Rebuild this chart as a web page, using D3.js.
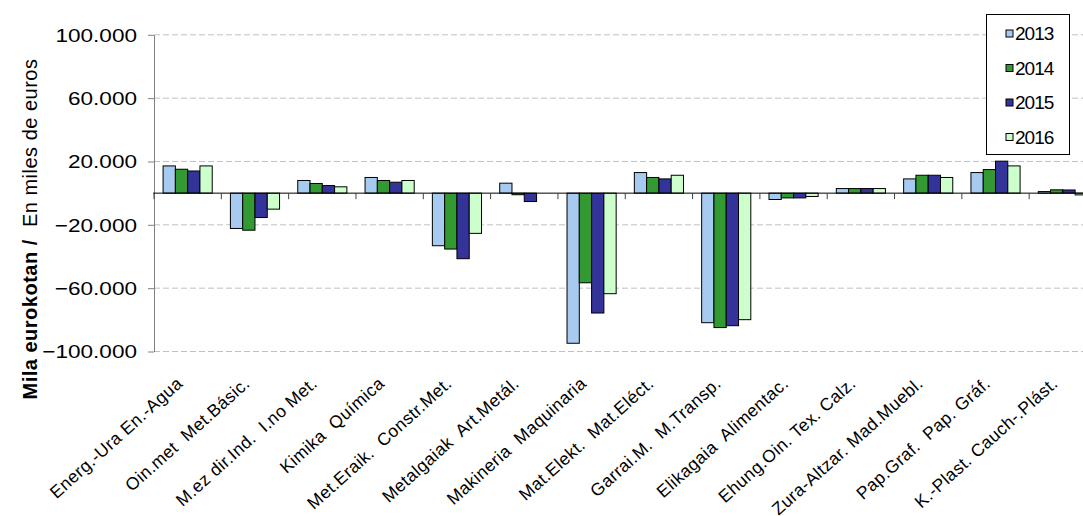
<!DOCTYPE html>
<html>
<head>
<meta charset="utf-8">
<script src="https://cdn.jsdelivr.net/npm/d3@7"></script>
<style>
  html, body { margin: 0; padding: 0; background: #fff; }
  svg { display: block; font-family: "Liberation Sans", Arial, sans-serif; }
</style>
</head>
<body>
<svg id="chart" width="1083" height="516"></svg>
<script>
const categories = [
  "Energ.-Ura En.-Agua",
  "Oin.met  Met.Básic.",
  "M.ez dir.Ind.  I.no Met.",
  "Kimika  Química",
  "Met.Eraik.  Constr.Met.",
  "Metalgaiak  Art.Metál.",
  "Makineria  Maquinaria",
  "Mat.Elekt.  Mat.Eléct.",
  "Garrai.M.  M.Transp.",
  "Elikagaia  Alimentac.",
  "Ehung.Oin. Tex. Calz.",
  "Zura-Altzar. Mad.Muebl.",
  "Pap.Graf.  Pap. Gráf.",
  "K.-Plast. Cauch-.Plást."
];
const years = ["2013", "2014", "2015", "2016"];
const values2013 = [17200, -22300, 8000, 9900, -33200, 6300, -94800, 13000, -81800, -4000, 2900, 9000, 13000, 1000];
const values2014 = [15100, -23400, 6100, 8000, -35300, -1000, -56600, 9900, -84900, -3000, 2900, 11300, 14900, 2100];
const values2015 = [14000, -15400, 4800, 6900, -41400, -5300, -75700, 9000, -83700, -3000, 2900, 11300, 20200, 2000];
const values2016 = [17200, -10100, 4000, 8000, -25400, 0, -63500, 11300, -79900, -2100, 2900, 9900, 17200, -1100];
const seriesValues = [values2013, values2014, values2015, values2016];
const colors = ["#a6caf0", "#339933", "#333399", "#ccffcc"];
const yTicks = [100000, 60000, 20000, -20000, -60000, -100000];

const svg = d3.select("#chart");
const SX = 1.22; // horizontal stretch of the tick text

const x0 = d3.scaleBand().domain(categories).range([154, 1096.5])
  .paddingInner(0.27).paddingOuter(0.135);
const x1 = d3.scaleBand().domain(years).range([0, x0.bandwidth()]);
const y = d3.scaleLinear().domain([-100000, 100000]).range([351.5, 34.8]);
const step = x0.step();

// gridlines
svg.append("g").selectAll("line").data(yTicks).join("line")
  .attr("x1", 154).attr("x2", 1083)
  .attr("y1", d => y(d)).attr("y2", d => y(d))
  .attr("stroke", "#c0c0c0").attr("stroke-width", 1)
  .attr("stroke-dasharray", "6,3");

// y axis
const fmt = d => d3.format(",")(d).replace(/,/g, ".");
const yAxis = svg.append("g").attr("transform", "translate(154,0)")
  .call(d3.axisLeft(y).tickValues(yTicks).tickFormat(fmt).tickSize(6).tickSizeOuter(0));
yAxis.select(".domain").attr("stroke", "#808080");
yAxis.selectAll(".tick line").attr("stroke", "#808080");
yAxis.selectAll(".tick text")
  .attr("font-size", 18.5).attr("fill", "#000")
  .attr("font-family", "'Liberation Sans', Arial, sans-serif")
  .attr("x", null).attr("dy", "0.35em")
  .attr("transform", `translate(-17,0) scale(${SX},1)`);

// bars
const groups = svg.append("g").selectAll("g").data(categories).join("g")
  .attr("transform", c => `translate(${x0(c)},0)`);
groups.selectAll("rect")
  .data((c, i) => years.map((yr, k) => ({ yr, k, v: seriesValues[k][i] })))
  .join("rect")
  .attr("x", d => x1(d.yr))
  .attr("width", x1.bandwidth())
  .attr("y", d => y(Math.max(0, d.v)))
  .attr("height", d => Math.abs(y(d.v) - y(0)))
  .attr("fill", d => colors[d.k])
  .attr("stroke", "#000").attr("stroke-width", 1);

// zero line
svg.append("line").attr("x1", 153).attr("x2", 1083)
  .attr("y1", y(0)).attr("y2", y(0)).attr("stroke", "#000").attr("stroke-width", 1);

// category ticks on zero line
svg.append("g").selectAll("line").data(d3.range(categories.length + 1)).join("line")
  .attr("x1", i => 154 + i * step).attr("x2", i => 154 + i * step)
  .attr("y1", y(0)).attr("y2", y(0) + 6)
  .attr("stroke", "#404040").attr("stroke-width", 1);

// x labels
svg.append("g").selectAll("text").data(categories).join("text")
  .attr("transform", c => `translate(${x0(c) + x0.bandwidth() / 2 - 4},385) rotate(-42)`)
  .attr("text-anchor", "end")
  .attr("font-size", 17.5)
  .attr("letter-spacing", 0.4)
  .style("white-space", "pre")
  .text(c => c);

// y axis title
const title = svg.append("text")
  .attr("transform", `translate(37,229) rotate(-90)`)
  .attr("text-anchor", "middle")
  .attr("font-size", 20)
  .attr("letter-spacing", 0.5)
  .style("white-space", "pre");
title.append("tspan").attr("font-weight", "bold").text("Mila eurokotan / ");
title.append("tspan").text(" En miles de euros");

// legend
const lg = svg.append("g");
lg.append("rect").attr("x", 986.5).attr("y", 14.5).attr("width", 83).attr("height", 140)
  .attr("fill", "#fff").attr("stroke", "#000").attr("stroke-width", 1);
const items = lg.selectAll("g.item").data(years).join("g").attr("class", "item")
  .attr("transform", (d, i) => `translate(0,${33.5 + i * 34.5})`);
items.append("rect").attr("x", 1006).attr("y", -3.5).attr("width", 7).attr("height", 7)
  .attr("fill", (d, i) => colors[i]).attr("stroke", "#000").attr("stroke-width", 1);
items.append("text").attr("x", 1015).attr("dy", "0.36em")
  .attr("font-size", 19).attr("letter-spacing", "-1")
  .text(d => d);
</script>
</body>
</html>
